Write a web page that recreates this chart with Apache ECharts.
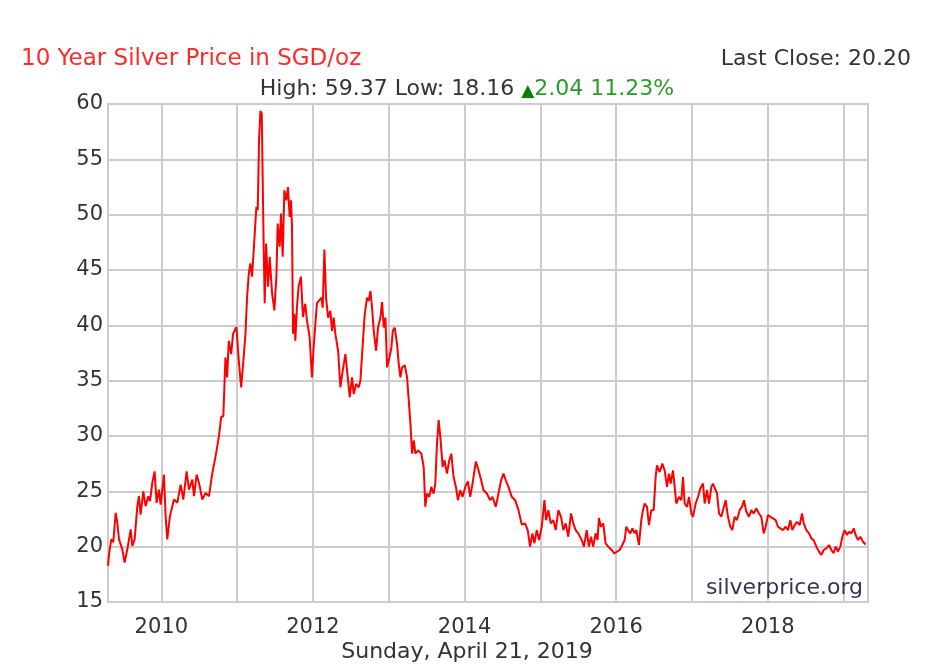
<!DOCTYPE html>
<html>
<head>
<meta charset="utf-8">
<script src="https://cdn.jsdelivr.net/npm/echarts@6/dist/echarts.min.js"></script>
<style>
  html, body { margin: 0; padding: 0; background: #fff; }
  #chart { width: 934px; height: 668px; }
</style>
</head>
<body>
<div id="chart"></div>
<script>
// decimal year of each sample
const years = [
  2009.297, 2009.310, 2009.341, 2009.367, 2009.398, 2009.420, 2009.442, 2009.486, 2009.516, 2009.552,
  2009.596, 2009.618, 2009.648, 2009.684, 2009.705, 2009.727, 2009.763, 2009.793, 2009.829, 2009.851,
  2009.881, 2009.912, 2009.938, 2009.969, 2009.991, 2010.035, 2010.057, 2010.079, 2010.114, 2010.167,
  2010.211, 2010.255, 2010.290, 2010.334, 2010.365, 2010.409, 2010.431, 2010.466, 2010.497, 2010.541,
  2010.585, 2010.629, 2010.673, 2010.716, 2010.760, 2010.791, 2010.818,
  2010.846, 2010.868, 2010.890, 2010.921, 2010.947, 2010.991, 2011.022, 2011.053, 2011.079, 2011.110,
  2011.132, 2011.154, 2011.175, 2011.197, 2011.219, 2011.254, 2011.272, 2011.289, 2011.307, 2011.325,
  2011.338, 2011.351, 2011.364, 2011.382, 2011.408, 2011.430, 2011.461, 2011.491, 2011.518, 2011.535,
  2011.561, 2011.579, 2011.601, 2011.623, 2011.649, 2011.671, 2011.693, 2011.711, 2011.724, 2011.737,
  2011.754, 2011.768, 2011.789, 2011.811, 2011.842, 2011.868, 2011.899, 2011.921, 2011.956, 2011.987,
  2012.009, 2012.053,
  2012.077, 2012.112, 2012.129, 2012.151, 2012.173, 2012.200, 2012.230, 2012.252, 2012.274, 2012.296,
  2012.332, 2012.362, 2012.393, 2012.428, 2012.459, 2012.485, 2012.516, 2012.538, 2012.569, 2012.604,
  2012.626, 2012.657, 2012.683, 2012.714, 2012.736, 2012.758, 2012.780, 2012.802, 2012.833, 2012.859,
  2012.890, 2012.912, 2012.934, 2012.956, 2012.978, 2013.009, 2013.035, 2013.053, 2013.079, 2013.110,
  2013.132, 2013.154, 2013.176, 2013.211, 2013.242, 2013.264, 2013.286, 2013.308, 2013.330, 2013.352,
  2013.387,
  2013.430, 2013.461, 2013.482, 2013.504, 2013.535, 2013.561, 2013.592, 2013.614, 2013.636, 2013.658,
  2013.680, 2013.711, 2013.737, 2013.768, 2013.798, 2013.825, 2013.855, 2013.886, 2013.912, 2013.943,
  2013.974, 2014.009, 2014.044, 2014.075, 2014.105, 2014.149, 2014.184, 2014.219, 2014.250, 2014.294,
  2014.338, 2014.368, 2014.412, 2014.447, 2014.482, 2014.513, 2014.544, 2014.579, 2014.623, 2014.667,
  2014.711, 2014.754, 2014.798, 2014.833, 2014.864, 2014.895, 2014.921, 2014.952, 2014.982, 2015.018,
  2015.053, 2015.075, 2015.105, 2015.136, 2015.171, 2015.202, 2015.237, 2015.272, 2015.303, 2015.333,
  2015.368, 2015.404, 2015.434, 2015.465, 2015.500, 2015.544, 2015.575, 2015.610, 2015.640, 2015.667,
  2015.697, 2015.728, 2015.754, 2015.772, 2015.798, 2015.829, 2015.860, 2015.895, 2015.939, 2015.974,
  2016.045, 2016.081, 2016.111, 2016.133, 2016.155, 2016.186, 2016.213, 2016.243, 2016.265, 2016.300,
  2016.331, 2016.353, 2016.375, 2016.406, 2016.432, 2016.463, 2016.494, 2016.520, 2016.538, 2016.573,
  2016.608, 2016.639, 2016.670, 2016.696, 2016.718, 2016.749, 2016.771, 2016.793, 2016.828, 2016.859,
  2016.881, 2016.903, 2016.934, 2016.960, 2016.991, 2017.013, 2017.048, 2017.079, 2017.109, 2017.145,
  2017.167, 2017.197, 2017.224, 2017.255, 2017.277, 2017.299, 2017.330, 2017.356, 2017.386, 2017.408,
  2017.444, 2017.474, 2017.505, 2017.532, 2017.562, 2017.593, 2017.628, 2017.659, 2017.685, 2017.716,
  2017.751, 2017.782, 2017.813, 2017.848, 2017.883, 2017.914, 2017.945, 2017.971, 2018.002, 2018.033,
  2018.068, 2018.103, 2018.134, 2018.165, 2018.200, 2018.235, 2018.266, 2018.297, 2018.323, 2018.354,
  2018.385, 2018.420, 2018.451, 2018.473, 2018.508, 2018.543, 2018.574, 2018.604, 2018.640, 2018.675,
  2018.706, 2018.736, 2018.772, 2018.807, 2018.838, 2018.868, 2018.895, 2018.925, 2018.956, 2018.983,
  2019.013, 2019.044, 2019.071, 2019.101, 2019.132, 2019.158, 2019.189, 2019.220, 2019.255, 2019.290
];

// SGD per ounce at each sample
const prices = [
  18.26, 19.3, 20.66, 20.4, 23.06, 22.2, 20.66, 19.76, 18.56, 19.76,
  21.56, 20.06, 20.66, 23.66, 24.56, 22.9, 25.0, 23.66, 24.56, 24.1,
  25.76, 26.8, 23.96, 25.16, 23.8, 26.5, 22.76, 20.66, 22.76, 24.26,
  23.96, 25.6, 24.26, 26.8, 25.16, 26.06, 24.56, 26.5, 25.76, 24.26,
  24.86, 24.56, 26.66, 28.16, 29.96, 31.76, 31.76,
  37.1, 35.3, 38.6, 37.4, 39.25, 39.85, 36.8, 34.4, 36.5, 39.25,
  42.6, 44.7, 45.6, 44.4, 46.8, 50.7, 50.4, 56.7, 59.37, 59.15,
  52.8, 46.8, 42.0, 47.4, 43.5, 46.2, 42.9, 41.35, 44.4, 49.2,
  47.1, 50.1, 46.2, 52.2, 51.3, 52.5, 49.8, 51.3, 48.9, 39.25,
  41.05, 38.6, 41.65, 43.5, 44.4, 40.75, 41.95, 40.45, 38.95, 35.3,
  38.0, 42.0,
  42.2, 42.5, 41.6, 46.85, 42.5, 40.7, 41.3, 39.5, 40.7, 39.2,
  37.7, 34.4, 35.9, 37.4, 35.3, 33.5, 35.3, 33.8, 34.7, 34.4,
  35.0, 38.3, 41.0, 42.5, 42.2, 43.1, 41.6, 39.5, 37.7, 39.8,
  40.7, 42.1, 39.8, 40.7, 36.2, 37.1, 38.0, 39.5, 39.8, 38.3,
  36.5, 35.3, 36.2, 36.4, 35.3, 33.2, 31.1, 28.4, 29.6, 28.4,
  28.7,
  28.4, 27.2, 23.6, 24.8, 24.5, 25.4, 24.8, 25.7, 29.3, 31.45,
  29.95, 27.2, 27.8, 26.6, 27.8, 28.4, 26.3, 25.4, 24.2, 25.1,
  24.5, 25.4, 25.9, 24.5, 25.7, 27.7, 26.9, 26.0, 25.1, 24.8,
  24.2, 24.5, 23.6, 24.8, 26.0, 26.6, 26.0, 25.4, 24.5, 24.2,
  23.3, 22.0, 22.1, 21.5, 20.0, 21.2, 20.3, 21.5, 20.6, 21.8,
  24.2, 22.4, 23.3, 22.1, 22.4, 21.5, 23.3, 22.7, 21.5, 22.1,
  20.9, 23.0, 22.1, 21.5, 21.2, 20.6, 20.0, 21.5, 20.0, 20.9,
  20.0, 21.2, 20.6, 22.6, 21.8, 22.1, 20.3, 20.0, 19.7, 19.4,
  19.7, 20.15, 20.6, 21.8, 21.5, 21.2, 21.65, 21.2, 21.5, 20.15,
  22.4, 23.3, 23.9, 23.6, 21.95, 23.3, 23.3, 26.3, 27.35, 26.75,
  27.5, 26.9, 25.4, 26.6, 25.7, 26.9, 25.4, 23.9, 24.5, 24.2,
  26.3, 23.9, 23.6, 24.5, 23.0, 22.7, 23.9, 24.5, 25.25, 25.7,
  23.9, 25.1, 23.9, 25.4, 25.7, 25.85, 24.8, 23.0, 22.7, 23.3,
  24.2, 22.7, 21.8, 21.5, 22.7, 22.4, 23.3, 23.6, 24.2, 23.15,
  22.7, 23.3, 23.0, 23.45, 23.0, 22.7, 21.2, 21.8, 22.85, 22.7,
  22.55, 22.4, 21.8, 21.65, 21.5, 21.8, 21.5, 22.4, 21.5, 21.95,
  22.25, 21.95, 23.0, 22.1, 21.5, 21.2, 20.75, 20.6, 20.0, 19.55,
  19.25, 19.7, 19.85, 20.15, 19.7, 19.4, 20.0, 19.55, 20.0, 20.9,
  21.5, 21.05, 21.35, 21.2, 21.65, 21.05, 20.6, 20.9, 20.45, 20.2
];

const yearTicks = [2010, 2011, 2012, 2013, 2014, 2015, 2016, 2017, 2018, 2019];
const yearLabels = [2010, 2012, 2014, 2016, 2018];

const titleText = '10 Year Silver Price in SGD/oz';
const lastCloseText = 'Last Close: 20.20';
const statsText = 'High: 59.37 Low: 18.16 ';
const changeText = '2.04 11.23%';
const dateText = 'Sunday, April 21, 2019';
const sourceText = 'silverprice.org';

const FONT = 'DejaVu Sans';
const TEXT_COLOR = '#333';

const chart = echarts.init(document.getElementById('chart'));

const plainText = (size, color) => ({
  color: color || TEXT_COLOR, fontFamily: FONT, fontSize: size, fontWeight: 'normal',
});

const option = {
  animation: false,
  backgroundColor: '#fff',
  title: [
    { text: titleText, left: 21, top: 48, padding: 0, textStyle: plainText(23, '#ff2a2a') },
    { text: lastCloseText, right: 23, top: 48, padding: 0, textStyle: plainText(22) },
    {
      text: '{a|' + statsText + '}{t|▲}{g|' + changeText + '}',
      left: 'center', top: 78, padding: 0,
      textStyle: {
        fontWeight: 'normal',
        rich: {
          a: plainText(22),
          t: Object.assign(plainText(17, '#008000'), { verticalAlign: 'bottom' }),
          g: plainText(22, '#2a9a2a'),
        },
      },
    },
    { text: dateText, left: 'center', top: 641, padding: 0, textStyle: plainText(22) },
    { text: sourceText, right: 71, top: 577, padding: 0, textStyle: plainText(22, '#3a3350') },
  ],
  grid: {
    left: 108, right: 66, top: 104, bottom: 66,
    show: true, borderColor: '#cccccc', borderWidth: 2,
  },
  xAxis: {
    type: 'value',
    min: 2009.297,
    max: 2019.321,
    axisLine: { show: false },
    axisTick: { show: false, customValues: yearTicks },
    splitLine: { show: true, lineStyle: { color: '#cccccc', width: 2 } },
    axisLabel: {
      customValues: yearLabels,
      formatter: v => String(v),
      color: TEXT_COLOR, fontFamily: FONT, fontSize: 21, margin: 15,
    },
  },
  yAxis: {
    type: 'value',
    min: 15, max: 60, interval: 5,
    axisLine: { show: false },
    axisTick: { show: false },
    splitLine: { show: true, lineStyle: { color: '#cccccc', width: 2 } },
    axisLabel: { color: TEXT_COLOR, fontFamily: FONT, fontSize: 21, margin: 5 },
  },
  series: [
    {
      type: 'line',
      data: years.map((y, i) => [y, prices[i]]),
      showSymbol: false,
      lineStyle: { color: '#ff0000', width: 2 },
      z: 3,
    },
  ],
};

chart.setOption(option);
</script>
</body>
</html>
